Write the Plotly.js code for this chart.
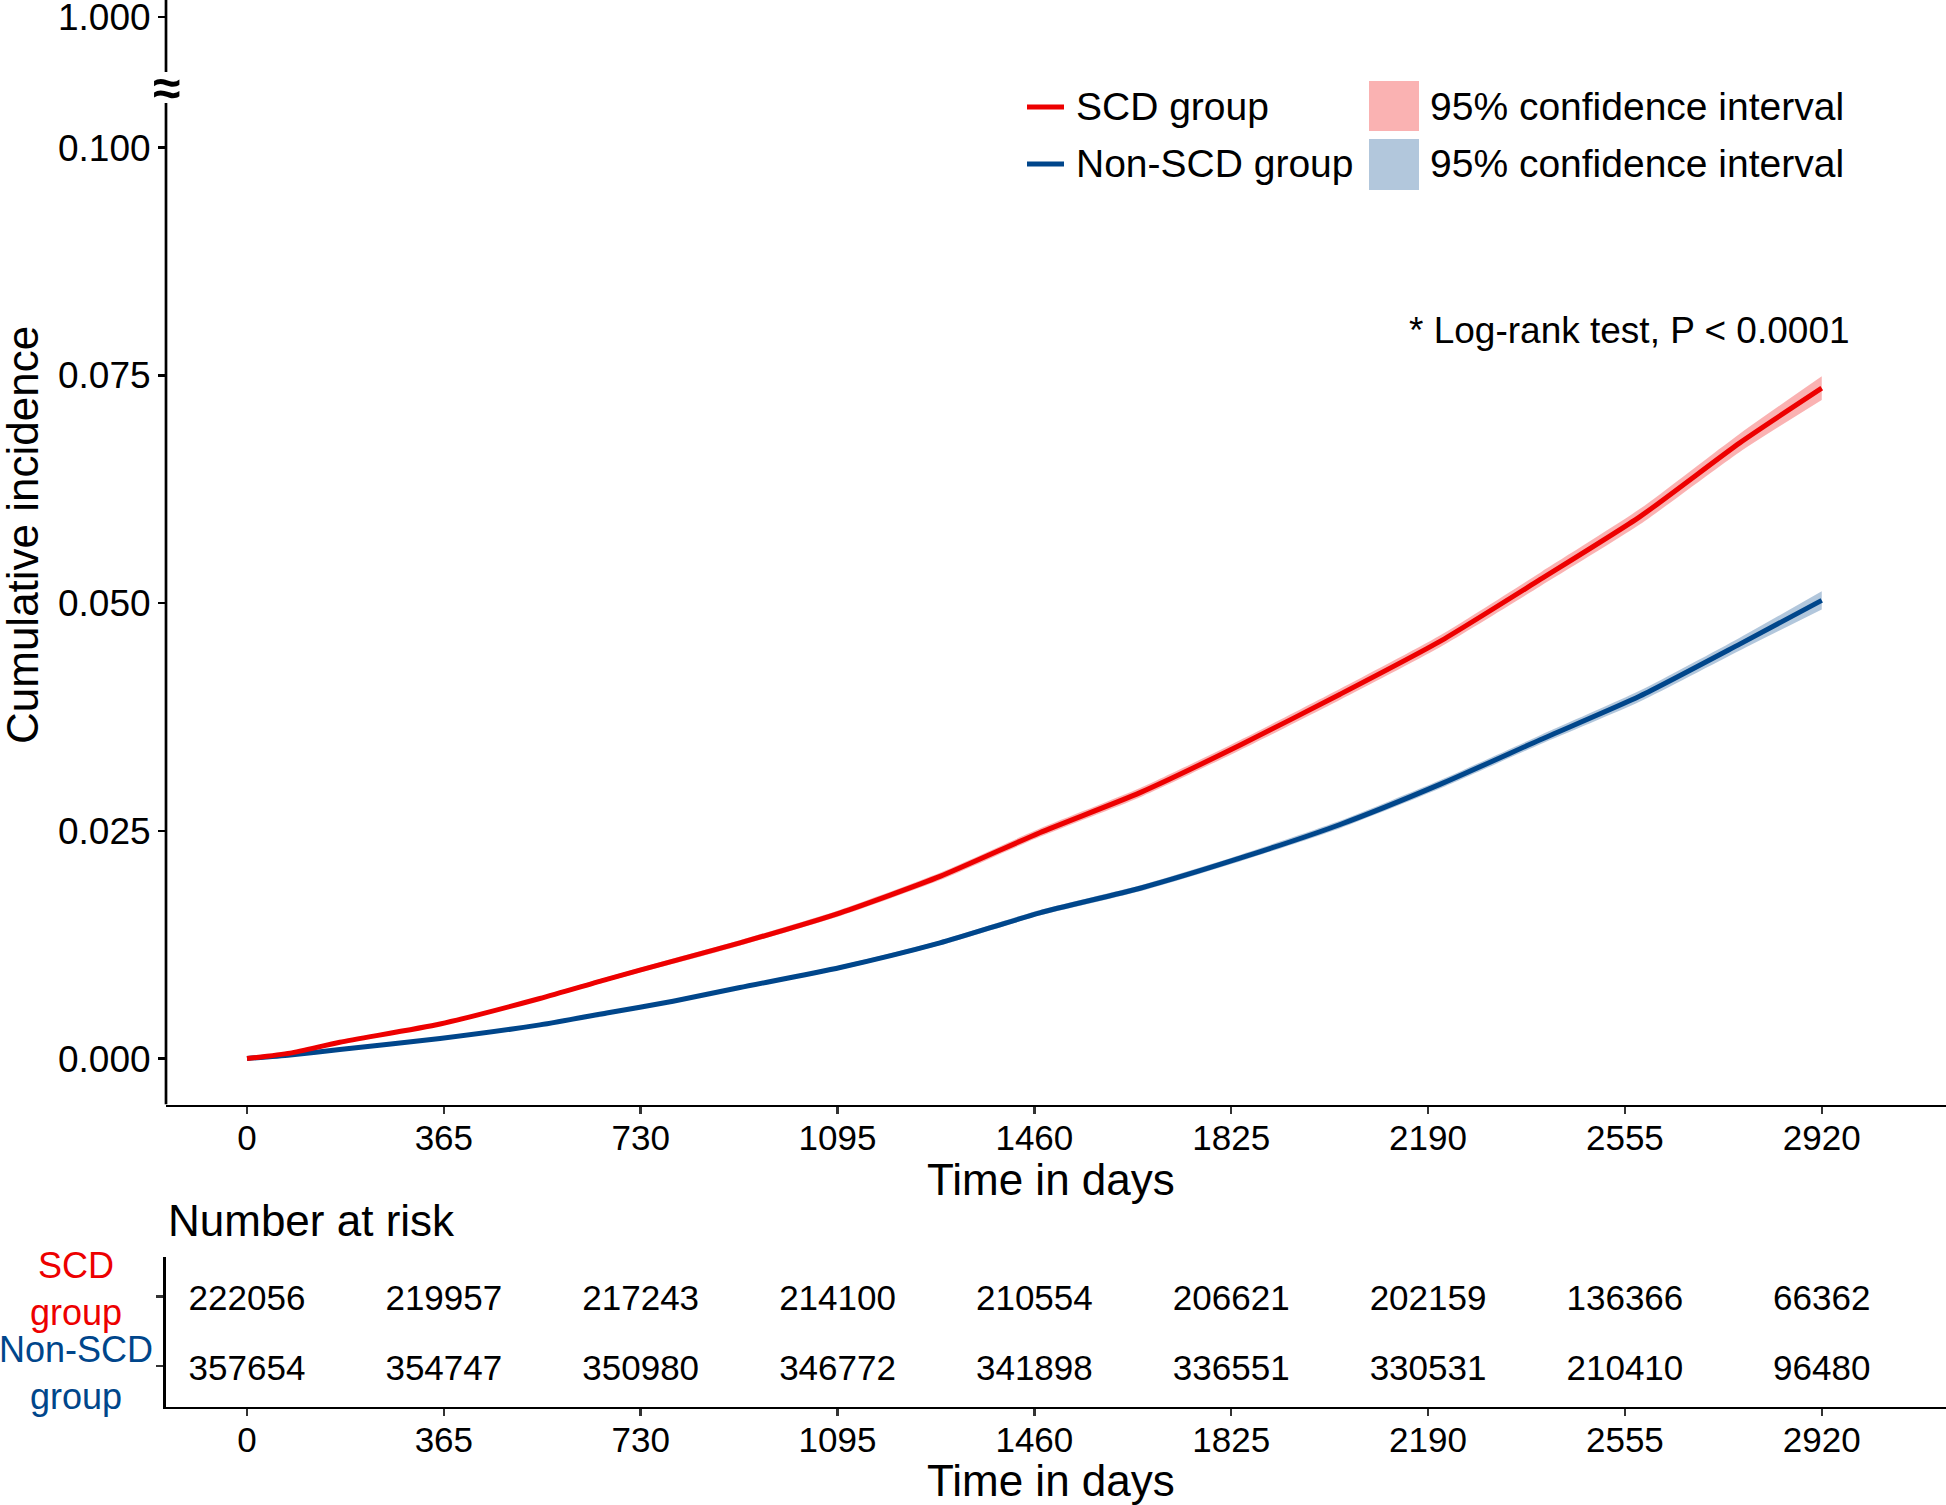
<!DOCTYPE html>
<html>
<head>
<meta charset="utf-8">
<script src="https://cdn.plot.ly/plotly-3.0.1.min.js"></script>
<style>html,body{margin:0;padding:0;background:#fff;}#chart{width:1946px;height:1505px;}</style>
</head>
<body>
<div id="chart"></div>
<script>
// ---- data ----
const days = [0, 80, 172, 358, 543, 667, 790, 914, 1100, 1285, 1470, 1656, 1841, 2027, 2212, 2398, 2583, 2768, 2920];
const scdInc = [0, 0.0006, 0.0018, 0.0038, 0.0066, 0.0087, 0.0107, 0.0127, 0.0160, 0.0200, 0.0248, 0.0292, 0.0344, 0.0400, 0.0458, 0.0526, 0.0595, 0.0676, 0.0736];
const scdLo  = [0, 0.00055, 0.0017, 0.00365, 0.0064, 0.00845, 0.0104, 0.0124, 0.01565, 0.0196, 0.02435, 0.0287, 0.03385, 0.0394, 0.04515, 0.05185, 0.05865, 0.0666, 0.0723];
const scdHi  = [0, 0.00065, 0.0019, 0.00395, 0.0068, 0.00895, 0.0110, 0.0130, 0.01635, 0.0204, 0.02525, 0.0297, 0.03495, 0.0406, 0.04645, 0.05335, 0.06035, 0.0686, 0.0749];
const nonInc = [0, 0.0004, 0.0010, 0.0022, 0.0037, 0.0050, 0.0063, 0.0078, 0.0100, 0.0127, 0.0160, 0.0187, 0.0220, 0.0257, 0.0301, 0.0350, 0.0398, 0.0455, 0.0503];
const nonLo  = [0, 0.00037, 0.00095, 0.0021, 0.00357, 0.00485, 0.00612, 0.0076, 0.00977, 0.01244, 0.0157, 0.01837, 0.02164, 0.0253, 0.02965, 0.0345, 0.0392, 0.0448, 0.0493];
const nonHi  = [0, 0.00043, 0.00105, 0.0023, 0.00383, 0.00515, 0.00648, 0.0080, 0.01023, 0.01296, 0.0163, 0.01903, 0.02236, 0.0261, 0.03055, 0.0355, 0.0404, 0.0462, 0.0513];

const riskDays = [0, 365, 730, 1095, 1460, 1825, 2190, 2555, 2920];
const scdRisk = [222056, 219957, 217243, 214100, 210554, 206621, 202159, 136366, 66362];
const nonRisk = [357654, 354747, 350980, 346772, 341898, 336551, 330531, 210410, 96480];

const yTickVals = [0, 0.025, 0.05, 0.075, 0.1];
const yTickText = ['0.000', '0.025', '0.050', '0.075', '0.100'];
const topTickText = '1.000';

const groupNames = ['SCD group', 'Non-SCD group'];
const ciLabel = '95% confidence interval';
const pText = '* Log-rank test, P < 0.0001';

// ---- styling ----
const RED = '#ED0000', BLUE = '#00468B';
const RED_F = 'rgba(237,0,0,0.3)', BLUE_F = 'rgba(0,70,139,0.3)';
const FONT = 'Liberation Sans, Arial, Helvetica, sans-serif';
const W = 1946, H = 1505, L = 166;
const px = x => (x - L) / (W - L);
const py = y => (H - y) / H;

const yMin = -0.00504, yMax = 0.116215, pxPerUnit = 9109;
const yAt = y => yMax - y / pxPerUnit;    // pixel row -> main-axis value
const topTickVal = yAt(17);
const xRange = [-150.2, 3150.4];
const riskRange = [0.413, 2.577];
const riskShift = 5 / 69.3;               // numbers sit a little below the ticks

const SPL = {shape: 'spline', smoothing: 0.6};

function band(x, lo, hi, color) {
  return [
    {x: x, y: lo, mode: 'lines', line: Object.assign({width: 0}, SPL), hoverinfo: 'skip', showlegend: false},
    {x: x, y: hi, mode: 'lines', line: Object.assign({width: 0}, SPL), fill: 'tonexty', fillcolor: color, hoverinfo: 'skip', showlegend: false}
  ];
}

const traces = [
  ...band(days, nonLo, nonHi, BLUE_F),
  {x: days, y: nonInc, mode: 'lines', line: Object.assign({color: BLUE, width: 5}, SPL), showlegend: false, name: groupNames[1]},
  ...band(days, scdLo, scdHi, RED_F),
  {x: days, y: scdInc, mode: 'lines', line: Object.assign({color: RED, width: 5}, SPL), showlegend: false, name: groupNames[0]},
  // anchors the risk-table subplot (invisible)
  {x: riskDays, y: riskDays.map(() => 1), mode: 'markers', marker: {opacity: 0, size: 1}, xaxis: 'x2', yaxis: 'y2', showlegend: false, hoverinfo: 'skip'},
  {x: riskDays, y: riskDays.map(() => 2), text: scdRisk.map(String), mode: 'text', textposition: 'middle center',
   textfont: {family: FONT, size: 35, color: '#000'}, xaxis: 'x2', yaxis: 'y3', showlegend: false, cliponaxis: false, hoverinfo: 'skip'},
  {x: riskDays, y: riskDays.map(() => 1), text: nonRisk.map(String), mode: 'text', textposition: 'middle center',
   textfont: {family: FONT, size: 35, color: '#000'}, xaxis: 'x2', yaxis: 'y3', showlegend: false, cliponaxis: false, hoverinfo: 'skip'}
];

const axisCommon = {
  showgrid: false, zeroline: false, ticks: 'outside', ticklen: 7, tickwidth: 2.5,
  tickfont: {family: FONT, size: 35, color: '#000'}
};

const layout = {
  width: W, height: H,
  margin: {l: L, r: 0, t: 0, b: 0},
  paper_bgcolor: '#fff', plot_bgcolor: '#fff',
  showlegend: false,
  font: {family: FONT, color: '#000'},
  xaxis: Object.assign({}, axisCommon, {
    domain: [0, 1], range: xRange, anchor: 'y', tickvals: riskDays, ticktext: riskDays.map(String),
    showline: true, linecolor: '#000', linewidth: 2.7, tickcolor: '#333', ticklabelstandoff: -6
  }),
  yaxis: Object.assign({}, axisCommon, {
    domain: [py(1104.5), 1], range: [yMin, yMax], anchor: 'x',
    tickvals: yTickVals.concat([topTickVal]), ticktext: yTickText.concat([topTickText]),
    tickfont: {family: FONT, size: 37, color: '#000'},
    showline: false, tickcolor: '#000', ticklabelstandoff: 0, ticklabeloverflow: 'allow'
  }),
  xaxis2: Object.assign({}, axisCommon, {
    domain: [0, 1], range: xRange, anchor: 'y2', tickvals: riskDays, ticktext: riskDays.map(String),
    showline: true, linecolor: '#000', linewidth: 2.7, tickcolor: '#333', ticklabelstandoff: -6
  }),
  yaxis2: Object.assign({}, axisCommon, {
    domain: [py(1406.7), py(1256.7)], range: riskRange, anchor: 'x2',
    tickvals: [1, 2], showticklabels: false, showline: true, linecolor: '#000', linewidth: 2.7, tickcolor: '#333'
  }),
  yaxis3: {
    domain: [py(1406.7), py(1256.7)], range: [riskRange[0] + riskShift, riskRange[1] + riskShift],
    overlaying: 'y2', anchor: 'x2', visible: false, showgrid: false, zeroline: false
  },
  shapes: [
    // broken y axis line
    {type: 'line', xref: 'paper', yref: 'y', x0: 0, x1: 0, y0: yMin, y1: yAt(103), line: {color: '#000', width: 2.7}},
    {type: 'line', xref: 'paper', yref: 'y', x0: 0, x1: 0, y0: yAt(72), y1: yMax, line: {color: '#000', width: 2.7}},
    // legend keys
    {type: 'line', xref: 'paper', yref: 'paper', x0: px(1027), x1: px(1064), y0: py(107), y1: py(107), line: {color: RED, width: 5}},
    {type: 'line', xref: 'paper', yref: 'paper', x0: px(1027), x1: px(1064), y0: py(164), y1: py(164), line: {color: BLUE, width: 5}},
    {type: 'rect', xref: 'paper', yref: 'paper', x0: px(1369), x1: px(1419), y0: py(131), y1: py(81), line: {width: 0}, fillcolor: RED_F},
    {type: 'rect', xref: 'paper', yref: 'paper', x0: px(1369), x1: px(1419), y0: py(190), y1: py(139), line: {width: 0}, fillcolor: BLUE_F}
  ],
  annotations: [
    {text: '<b>≈</b>', xref: 'paper', yref: 'y', x: 0, y: yAt(88), showarrow: false, xanchor: 'center', yanchor: 'middle',
     font: {family: FONT, size: 50, color: '#000'}},
    {text: 'Cumulative incidence', xref: 'paper', yref: 'paper', x: px(22), y: py(535), textangle: -90, showarrow: false,
     xanchor: 'center', yanchor: 'middle', font: {family: FONT, size: 44, color: '#000'}},
    {text: 'Time in days', xref: 'paper', yref: 'paper', x: px(1051), y: py(1179), showarrow: false,
     xanchor: 'center', yanchor: 'middle', font: {family: FONT, size: 44, color: '#000'}},
    {text: 'Number at risk', xref: 'paper', yref: 'paper', x: px(166), y: py(1220), showarrow: false,
     xanchor: 'left', yanchor: 'middle', font: {family: FONT, size: 44, color: '#000'}},
    {text: 'Time in days', xref: 'paper', yref: 'paper', x: px(1051), y: py(1480), showarrow: false,
     xanchor: 'center', yanchor: 'middle', font: {family: FONT, size: 44, color: '#000'}},
    {text: pText, xref: 'paper', yref: 'paper', x: px(1852), y: py(330), showarrow: false,
     xanchor: 'right', yanchor: 'middle', font: {family: FONT, size: 37, color: '#000'}},
    {text: groupNames[0], xref: 'paper', yref: 'paper', x: px(1074), y: py(107), showarrow: false,
     xanchor: 'left', yanchor: 'middle', font: {family: FONT, size: 39, color: '#000'}},
    {text: groupNames[1], xref: 'paper', yref: 'paper', x: px(1074), y: py(164), showarrow: false,
     xanchor: 'left', yanchor: 'middle', font: {family: FONT, size: 39, color: '#000'}},
    {text: ciLabel, xref: 'paper', yref: 'paper', x: px(1428), y: py(107), showarrow: false,
     xanchor: 'left', yanchor: 'middle', font: {family: FONT, size: 39, color: '#000'}},
    {text: ciLabel, xref: 'paper', yref: 'paper', x: px(1428), y: py(164), showarrow: false,
     xanchor: 'left', yanchor: 'middle', font: {family: FONT, size: 39, color: '#000'}},
    {text: 'SCD<br>group', xref: 'paper', yref: 'paper', x: px(76), y: py(1289), showarrow: false,
     xanchor: 'center', yanchor: 'middle', align: 'center', font: {family: FONT, size: 36, color: RED}},
    {text: 'Non-SCD<br>group', xref: 'paper', yref: 'paper', x: px(76), y: py(1373), showarrow: false,
     xanchor: 'center', yanchor: 'middle', align: 'center', font: {family: FONT, size: 36, color: BLUE}}
  ]
};

Plotly.newPlot('chart', traces, layout, {displayModeBar: false, staticPlot: true});
</script>
</body>
</html>
